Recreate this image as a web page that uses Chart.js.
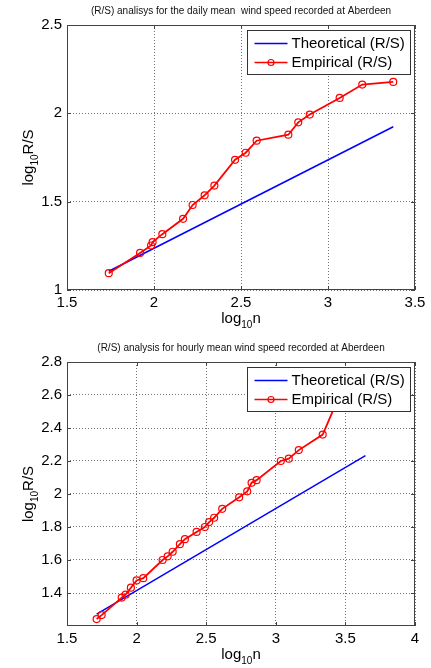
<!DOCTYPE html>
<html>
<head>
<meta charset="utf-8">
<script src="https://cdn.jsdelivr.net/npm/chart.js@4.4.0/dist/chart.umd.min.js"></script>
<style>
  html, body { margin: 0; padding: 0; background: #fff; }
  canvas { display: block; }
</style>
</head>
<body>
<canvas id="daily" width="431" height="334"></canvas>
<canvas id="hourly" width="431" height="334"></canvas>
<script>
// daily mean wind speed (R/S)
const dailyLogN = [1.74, 1.92, 1.983, 1.992, 2.048, 2.167, 2.222, 2.291, 2.347, 2.466, 2.527, 2.59, 2.772, 2.829, 2.895, 3.067, 3.197, 3.375];
const dailyLogRS = [1.095, 1.21, 1.252, 1.271, 1.316, 1.403, 1.481, 1.536, 1.591, 1.737, 1.777, 1.845, 1.879, 1.949, 1.993, 2.087, 2.163, 2.178];
const dailyTheoN = [1.74, 3.375];
const dailyTheoRS = [1.106, 1.924];
const dailyXTicks = [1.5, 2, 2.5, 3, 3.5];
const dailyYTicks = [1, 1.5, 2, 2.5];

// hourly mean wind speed (R/S)
const hourlyLogN = [1.713, 1.749, 1.893, 1.921, 1.959, 2.0, 2.048, 2.187, 2.223, 2.259, 2.311, 2.347, 2.431, 2.49, 2.521, 2.557, 2.615, 2.737, 2.795, 2.826, 2.862, 3.036, 3.093, 3.165, 3.337, 3.52];
const hourlyLogRS = [1.242, 1.266, 1.372, 1.39, 1.432, 1.476, 1.49, 1.6, 1.622, 1.65, 1.696, 1.726, 1.77, 1.8, 1.83, 1.856, 1.91, 1.98, 2.016, 2.068, 2.084, 2.2, 2.214, 2.266, 2.36, 2.72];
const hourlyTheoN = [1.713, 3.644];
const hourlyTheoRS = [1.272, 2.232];
const hourlyXTicks = [1.5, 2, 2.5, 3, 3.5, 4];
const hourlyYTicks = [1.4, 1.6, 1.8, 2, 2.2, 2.4, 2.6, 2.8];

const legendLabels = ['Theoretical (R/S)', 'Empirical (R/S)'];
const FONT = 'Arial, "Liberation Sans", sans-serif';

// draw text with subscript parts, left aligned at x, baseline y
function subText(ctx, parts, x, y, draw) {
  let cx = x;
  parts.forEach(([t, sub]) => {
    ctx.font = (sub ? '10px ' : '15px ') + FONT;
    if (draw) ctx.fillText(t, cx, sub ? y + 5 : y);
    cx += ctx.measureText(t).width;
  });
  return cx - x;
}

// matlab style box, inner ticks, title, labels and legend
const matlabAxes = {
  id: 'matlabAxes',
  afterDraw(chart, args, opts) {
    const ctx = chart.ctx;
    const a = chart.chartArea;
    const xs = chart.scales.x, ys = chart.scales.y;
    ctx.save();
    ctx.strokeStyle = '#444';
    ctx.lineWidth = 1;
    ctx.beginPath();
    xs.ticks.forEach(t => {
      const px = Math.round(xs.getPixelForValue(t.value)) + 0.5;
      ctx.moveTo(px, a.bottom); ctx.lineTo(px, a.bottom - 4);
      ctx.moveTo(px, a.top); ctx.lineTo(px, a.top + 4);
    });
    ys.ticks.forEach(t => {
      const py = Math.round(ys.getPixelForValue(t.value)) + 0.5;
      ctx.moveTo(a.left, py); ctx.lineTo(a.left + 4, py);
      ctx.moveTo(a.right, py); ctx.lineTo(a.right - 4, py);
    });
    ctx.stroke();
    ctx.strokeRect(Math.round(a.left) + 0.5, Math.round(a.top) + 0.5, Math.round(a.right - a.left) - 1, Math.round(a.bottom - a.top) - 1);

    // title
    const cx = (a.left + a.right) / 2;
    ctx.fillStyle = '#111';
    ctx.font = '10px ' + FONT;
    ctx.textAlign = 'center';
    ctx.textBaseline = 'middle';
    ctx.fillText(opts.title, cx, a.top - 14);

    // axis labels
    ctx.fillStyle = '#000';
    ctx.textAlign = 'left';
    ctx.textBaseline = 'alphabetic';
    const xl = [['log', false], ['10', true], ['n', false]];
    const xw = subText(ctx, xl, 0, 0, false);
    subText(ctx, xl, cx - xw / 2, a.bottom + 33, true);
    const yl = [['log', false], ['10', true], ['R/S', false]];
    const yw = subText(ctx, yl, 0, 0, false);
    ctx.save();
    ctx.translate(33, (a.top + a.bottom) / 2);
    ctx.rotate(-Math.PI / 2);
    subText(ctx, yl, -yw / 2, 0, true);
    ctx.restore();

    // legend
    const lx = Math.round(a.right) - 167.5, ly = Math.round(a.top) + 5.5;
    ctx.fillStyle = '#fff';
    ctx.fillRect(lx, ly, 163, 44);
    ctx.strokeStyle = '#333';
    ctx.strokeRect(lx, ly, 163, 44);
    const rows = [ly + 13, ly + 32];
    ctx.lineWidth = 1.5;
    ctx.strokeStyle = '#0000ff';
    ctx.beginPath(); ctx.moveTo(lx + 7, rows[0]); ctx.lineTo(lx + 40, rows[0]); ctx.stroke();
    ctx.strokeStyle = '#ff0000';
    ctx.beginPath(); ctx.moveTo(lx + 7, rows[1]); ctx.lineTo(lx + 40, rows[1]); ctx.stroke();
    ctx.lineWidth = 1.2;
    ctx.beginPath(); ctx.arc(lx + 23.5, rows[1], 3, 0, Math.PI * 2); ctx.stroke();
    ctx.fillStyle = '#000';
    ctx.font = '15px ' + FONT;
    ctx.textBaseline = 'middle';
    ctx.fillText(legendLabels[0], lx + 44, rows[0]);
    ctx.fillText(legendLabels[1], lx + 44, rows[1]);
    ctx.restore();
  }
};

function makeChart(id, s) {
  const tickFont = { family: FONT, size: 15 };
  const grid = { color: 'rgba(0,0,0,0.55)', lineWidth: 1, drawTicks: false };
  const border = { display: false, dash: [1, 2] };
  return new Chart(document.getElementById(id), {
    type: 'scatter',
    data: {
      datasets: [
        {
          label: legendLabels[1],
          data: s.logN.map((x, i) => ({ x, y: s.logRS[i] })),
          showLine: true,
          borderColor: '#ff0000',
          borderWidth: 1.8,
          pointRadius: 3.5,
          pointBorderWidth: 1.2,
          pointBorderColor: '#ff0000',
          pointBackgroundColor: 'rgba(0,0,0,0)',
          order: 0
        },
        {
          label: legendLabels[0],
          data: s.theoN.map((x, i) => ({ x, y: s.theoRS[i] })),
          showLine: true,
          borderColor: '#0000ff',
          borderWidth: 1.5,
          pointRadius: 0,
          order: 1
        }
      ]
    },
    options: {
      responsive: false,
      animation: false,
      events: [],
      layout: { padding: { left: 0, right: 16, top: s.top, bottom: 0 } },
      scales: {
        x: {
          type: 'linear', min: s.xTicks[0], max: s.xTicks[s.xTicks.length - 1],
          grid, border,
          afterBuildTicks: sc => { sc.ticks = s.xTicks.map(v => ({ value: v })); },
          afterFit: sc => { sc.height = 334 - s.bottom; },
          ticks: { font: tickFont, color: '#000', padding: 4, maxRotation: 0, callback: v => String(v) }
        },
        y: {
          type: 'linear', min: s.yMin, max: s.yTicks[s.yTicks.length - 1],
          grid, border,
          afterBuildTicks: sc => { sc.ticks = s.yTicks.map(v => ({ value: v })); },
          afterFit: sc => { sc.width = 67; },
          ticks: { font: tickFont, color: '#000', padding: 5, callback: v => String(v) }
        }
      },
      plugins: {
        legend: { display: false },
        tooltip: { enabled: false },
        matlabAxes: { title: s.title }
      }
    },
    plugins: [matlabAxes]
  });
}

makeChart('daily', {
  logN: dailyLogN, logRS: dailyLogRS, theoN: dailyTheoN, theoRS: dailyTheoRS,
  xTicks: dailyXTicks, yTicks: dailyYTicks, yMin: 1,
  top: 25, bottom: 290,
  title: '(R/S) analisys for the daily mean  wind speed recorded at Aberdeen'
});

makeChart('hourly', {
  logN: hourlyLogN, logRS: hourlyLogRS, theoN: hourlyTheoN, theoRS: hourlyTheoRS,
  xTicks: hourlyXTicks, yTicks: hourlyYTicks, yMin: 1.2,
  top: 28, bottom: 292,
  title: '(R/S) analysis for hourly mean wind speed recorded at Aberdeen'
});
</script>
</body>
</html>
